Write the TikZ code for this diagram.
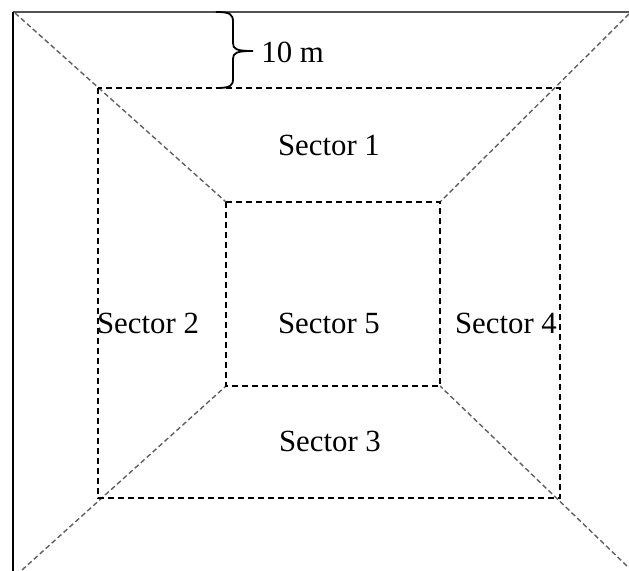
\documentclass[tikz,border=0pt]{standalone}
\usepackage{fontspec}
\setmainfont{Liberation Serif}
\tikzset{
  sectorline/.style={black, dash pattern=on 3pt off 2pt, line width=0.7pt},
  diagline/.style={gray!75!black, dash pattern=on 2.5pt off 1.5pt, line width=0.7pt},
  sectorlabel/.style={font=\fontsize{15.4}{18}\selectfont, inner sep=0pt}
}
\begin{document}
\begin{tikzpicture}[x=0.5pt,y=-0.5pt]
        \useasboundingbox (0,0) rectangle (629,571);
        % outer edges
        \draw[gray!65!black, line width=0.8pt] (629,12) -- (13,12);
        \draw[black, line width=0.8pt] (13,12) -- (13,571);
        % corners of the sectors
        \coordinate (o1) at (15,13);
        \coordinate (o2) at (629,14);
        \coordinate (o3) at (22,570);
        \coordinate (o4) at (627,566);
        \coordinate (m1) at (98,88);
        \coordinate (m4) at (560,498);
        \coordinate (i1) at (226,202);
        \coordinate (i2) at (440,202);
        \coordinate (i3) at (226,386);
        \coordinate (i4) at (440,386);
        \foreach \o/\i in {o1/i1, o2/i2, o3/i3, o4/i4} {
                \draw[diagline] (\o) -- (\i);
            }
        \draw[sectorline] (m1) rectangle (m4);
        \draw[sectorline] (i1) rectangle (i4);
        % labels
        \node[sectorlabel] (s1) at (329,145) {Sector 1};
        \node[sectorlabel] (s2) at (148,323) {Sector 2};
        \node[sectorlabel] (s3) at (330,441) {Sector 3};
        \node[sectorlabel] (s4) at (506,323) {Sector 4};
        \node[sectorlabel] (s5) at (329,323) {Sector 5};
        % width of the border strip
        \coordinate (b1) at (216,12);
        \coordinate (b2) at (216,88);
        \coordinate (tip) at (253,51);
        \draw[line width=0.9pt] (b1) .. controls (230,12) and (233,14) .. (233,22)
                -- (233,43) .. controls (233,49) and (236,51) .. (tip)
                .. controls (236,51) and (233,53) .. (233,59)
                -- (233,79) .. controls (233,86) and (230,88) .. (b2);
        \node[sectorlabel, anchor=west] (gap) at (261,52) {10 m};
    \end{tikzpicture}
\end{document}
